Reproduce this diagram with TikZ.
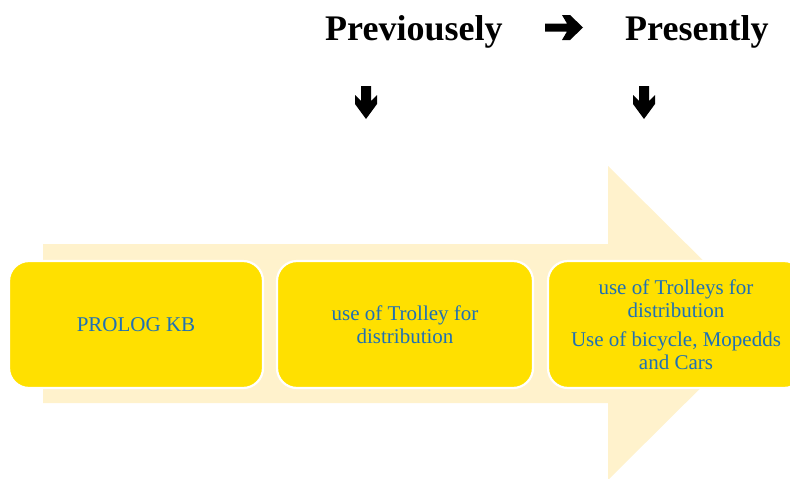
\documentclass[tikz,border=0pt]{standalone}
\usepackage{fontspec}
\setmainfont{Liberation Serif}
\usepackage{xcolor}
\usetikzlibrary{positioning}

\definecolor{stageyellow}{RGB}{255,224,0}
\definecolor{arrowcream}{RGB}{255,242,204}
\definecolor{stageblue}{RGB}{31,112,180}

\begin{document}
\begin{tikzpicture}[x=1pt, y=-1pt,
    stagebox/.style={rectangle, rounded corners=20pt, fill=stageyellow, draw=white,
      line width=2.2pt, minimum width=254pt, minimum height=127pt, align=center,
      text=stageblue, font=\rmfamily\fontsize{21}{22.5}\selectfont},
    heading/.style={anchor=base west, inner sep=0pt, font=\rmfamily\fontsize{36}{40}\selectfont\bfseries}]
   \useasboundingbox (0,0) rectangle (790,479);

   % big background arrow
   \fill[arrowcream] (43,244) -- (608,244) -- (608,166) -- (766,323)
      -- (608,480) -- (608,403) -- (43,403) -- cycle;

   % headings
   \node[heading] (prev) at (325,40) {Previousely};
   \node[heading] (pres) at (625,40) {Presently};

   % arrow between the headings
   \fill (545,23.5) -- (567,23.5) -- (562,15) -- (570,15) -- (583,27.5)
      -- (570,40) -- (562,40) -- (567,31.5) -- (545,31.5) -- cycle;

   % arrows under the headings
   \foreach \x in {366,644} {
     \fill (\x-5,86) -- (\x+5,86) -- (\x+5,101) -- (\x+11,95) -- (\x+11,104)
        -- (\x,119) -- (\x-11,104) -- (\x-11,95) -- (\x-5,101) -- cycle;
   }

   % stages
   \node[stagebox] (kb) at (136,324.5) {PROLOG KB};
   \node[stagebox, minimum width=256pt] (past) at (405,324.5) {use of Trolley for\\distribution};
   \node[stagebox, minimum width=256pt] (now) at (676,324.5)
      {use of Trolleys for\\distribution\\[7pt]Use of bicycle, Mopedds\\and Cars};
\end{tikzpicture}
\end{document}
